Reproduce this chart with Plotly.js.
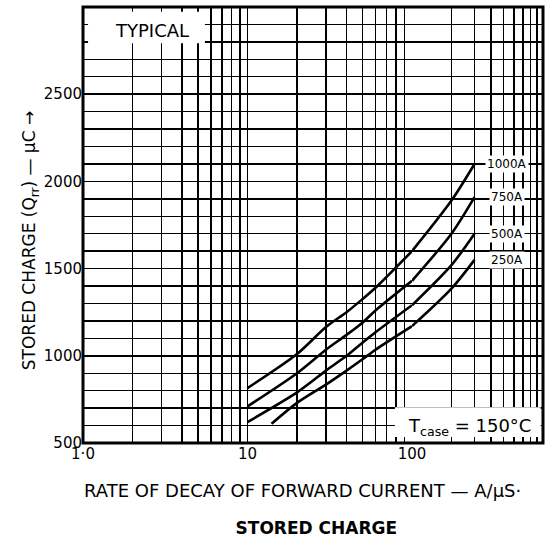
<!DOCTYPE html>
<html><head><meta charset="utf-8">
<script src="https://cdn.plot.ly/plotly-3.0.1.min.js"></script>
<style>html,body{margin:0;padding:0;background:#fff}#chart{width:555px;height:548px}</style>
</head><body><div id="chart"></div>
<script>
// Rate of decay of forward current (A/us) and stored charge (uC) per forward current
const rateX = [10, 20, 30, 40, 50, 60, 100, 200, 300];
const q1000A = [815, 1010, 1165, 1250, 1325, 1390, 1600, 1890, 2100];
const q750A = [710, 900, 1035, 1120, 1190, 1260, 1430, 1700, 1910];
const q500A = [620, 790, 915, 1000, 1075, 1135, 1290, 1520, 1700];
const rateX250 = [14, 20, 30, 40, 50, 60, 100, 200, 300];
const q250A = [610, 730, 835, 915, 980, 1035, 1170, 1385, 1550];
const curveLabels = ['1000A', '750A', '500A', '250A'];

// Tick / grid values
const xGridLow = [1,2,3,4,5,6,7,8,9,10,20,30,40,50,60,70,80,90,100];
const xTickLow = ['1·0','','','','','','','','','10','','','','','','','','','100'];
const xGridHigh = [200,300,400,500,600,700,800,900,1000];
const xTickHigh = ['','','','','','','','','1000'];
const yTicks = [500, 1000, 1500, 2000, 2500];
const yTickText = ['500', '1000', '1500', '2000', '2500'];

const series = [
  {x: rateX, y: q1000A},
  {x: rateX, y: q750A},
  {x: rateX, y: q500A},
  {x: rateX250, y: q250A}
];

const lineStyle = {color: '#000', width: 2.6, shape: 'spline', smoothing: 0.8};
const traces = [];
series.forEach((s, i) => {
  const lowX = [], lowY = [], highX = [], highY = [];
  s.x.forEach((xv, j) => {
    if (xv <= 100) { lowX.push(xv); lowY.push(s.y[j]); }
    if (xv >= 100) { highX.push(xv); highY.push(s.y[j]); }
  });
  traces.push({x: lowX, y: lowY, xaxis: 'x', yaxis: 'y', mode: 'lines', line: lineStyle, name: curveLabels[i], hoverinfo: 'x+y'});
  traces.push({x: highX, y: highY, xaxis: 'x2', yaxis: 'y', mode: 'lines', line: lineStyle, name: curveLabels[i], showlegend: false, hoverinfo: 'x+y'});
});

const gridCommon = {showgrid: true, gridcolor: '#000', gridwidth: 1.6, zeroline: false, showline: false, ticks: '', fixedrange: true, tickfont: {size: 15}};

const annotations = [
  {text: 'RATE OF DECAY OF FORWARD CURRENT — A/μS·', xref: 'paper', yref: 'paper', x: 0.478, y: -0.108, xanchor: 'center', yanchor: 'middle', showarrow: false, font: {size: 18}},
  {text: 'STORED CHARGE (Q<sub>rr</sub>) — μC →', xref: 'paper', yref: 'paper', x: -0.115, y: 0.463, xanchor: 'center', yanchor: 'middle', textangle: -90, showarrow: false, font: {size: 17}},
  {text: 'TYPICAL', xref: 'paper', yref: 'paper', x: 0.15, y: 0.945, xanchor: 'center', yanchor: 'middle', showarrow: false, font: {size: 18}},
  {text: 'T<sub>case</sub> = 150°C', xref: 'paper', yref: 'paper', x: 0.84, y: 0.037, xanchor: 'center', yanchor: 'middle', showarrow: false, font: {size: 18}}
];
series.forEach((s, i) => {
  annotations.push({text: curveLabels[i], xref: 'paper', yref: 'y', x: 0.922, y: s.y[s.y.length - 1], xanchor: 'center', yanchor: 'middle', showarrow: false, bgcolor: '#fff', borderpad: 1, font: {size: 12}});
});

const layout = {
  width: 555, height: 548,
  margin: {l: 83, r: 12, t: 7, b: 105},
  paper_bgcolor: '#fff', plot_bgcolor: '#fff',
  showlegend: false,
  font: {family: 'DejaVu Sans, sans-serif', color: '#000', size: 15},
  title: {text: '<b>STORED CHARGE</b>', font: {size: 17}, x: 0.57, xanchor: 'center', xref: 'container', y: 1 - 528 / 548, yanchor: 'middle', yref: 'container'},
  xaxis: Object.assign({type: 'log', domain: [0, 0.7152], range: [0, 2], tickmode: 'array', tickvals: xGridLow, ticktext: xTickLow}, gridCommon),
  xaxis2: Object.assign({type: 'log', domain: [0.7152, 1], range: [2, 3], anchor: 'y', tickmode: 'array', tickvals: xGridHigh, ticktext: xTickHigh}, gridCommon),
  yaxis: Object.assign({range: [500, 3000], tickmode: 'array', tickvals: yTicks, ticktext: yTickText,
    minor: {dtick: 100, tick0: 500, showgrid: true, gridcolor: '#000', gridwidth: 1.4, ticks: ''}}, gridCommon),
  shapes: [
    {type: 'rect', xref: 'paper', yref: 'paper', x0: 0.678, x1: 0.995, y0: 0.014, y1: 0.082, fillcolor: '#fff', line: {width: 0}, layer: 'above'},
    {type: 'rect', xref: 'paper', yref: 'paper', x0: 0.011, x1: 0.265, y0: 0.917, y1: 0.989, fillcolor: '#fff', line: {width: 0}, layer: 'above'},
    {type: 'rect', xref: 'paper', yref: 'paper', x0: 0, x1: 1, y0: 0, y1: 1, fillcolor: 'rgba(0,0,0,0)', line: {color: '#000', width: 3}, layer: 'above'}
  ],
  annotations: annotations
};

Plotly.newPlot('chart', traces, layout, {displayModeBar: false, staticPlot: true});
</script>
</body></html>
